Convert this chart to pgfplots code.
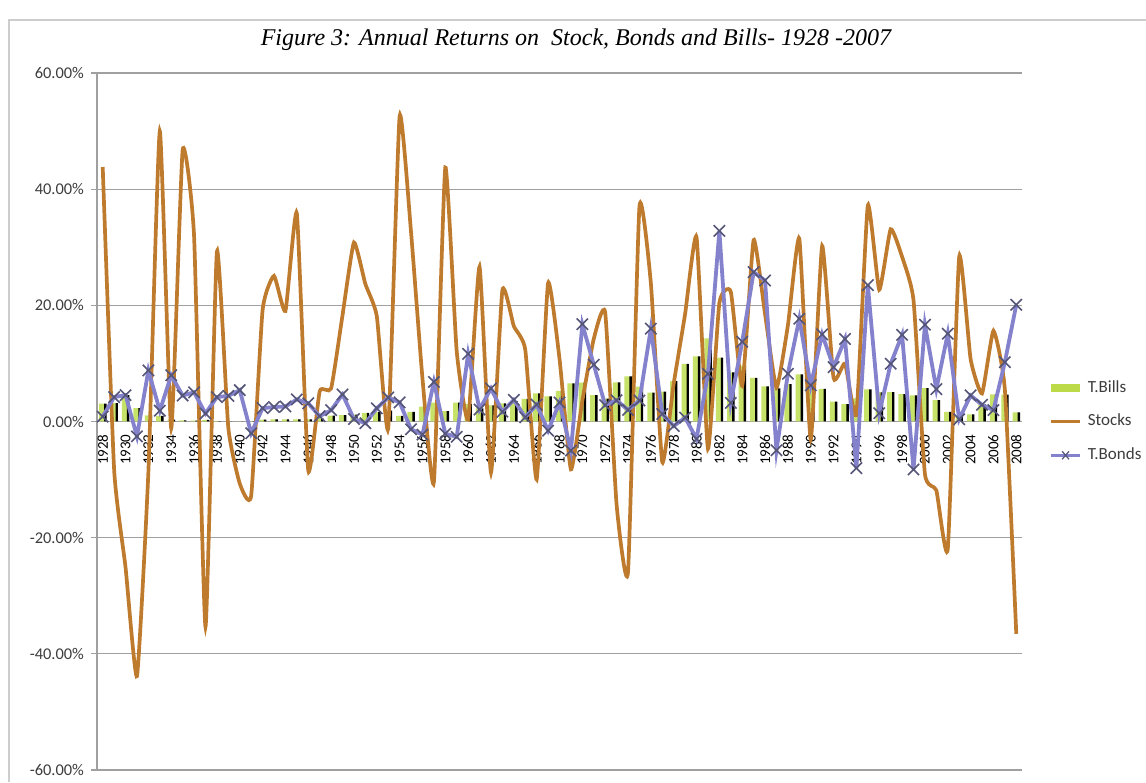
\documentclass[border=0pt]{standalone}
\usepackage{fontspec}
\setmainfont{Carlito}
\newfontfamily\titlefont{Liberation Serif}
\usepackage{pgfplots}
\usepackage{pgfplotstable}
\pgfplotsset{compat=1.18}

\definecolor{stockc}{RGB}{190,122,45}
\definecolor{bondc}{RGB}{132,130,204}
\definecolor{markc}{RGB}{85,85,120}
\definecolor{billc}{RGB}{198,226,105}
\definecolor{billleg}{RGB}{188,218,72}
\definecolor{gridc}{RGB}{160,160,160}
\definecolor{framec}{RGB}{205,205,205}
\definecolor{labelc}{RGB}{60,60,60}

% year, T.Bills, Stocks, T.Bonds (annual returns, %)
\pgfplotstableread{
year bills stocks bonds
1928 3.08 43.81 0.84
1929 3.16 -8.30 4.20
1930 4.55 -25.12 4.54
1931 2.31 -43.84 -2.56
1932 1.07 -8.64 8.79
1933 0.96 49.98 1.86
1934 0.32 -1.19 7.96
1935 0.18 46.74 4.47
1936 0.17 31.94 5.02
1937 0.30 -35.34 1.38
1938 0.08 29.28 4.21
1939 0.04 -1.10 4.41
1940 0.03 -10.67 5.40
1941 0.08 -12.77 -2.02
1942 0.34 19.17 2.29
1943 0.38 25.06 2.49
1944 0.38 19.03 2.58
1945 0.38 35.82 3.80
1946 0.38 -8.43 3.13
1947 0.57 5.20 0.92
1948 1.02 5.70 1.95
1949 1.10 18.30 4.66
1950 1.17 30.81 0.43
1951 1.48 23.68 -0.30
1952 1.67 18.15 2.27
1953 1.89 -1.21 4.14
1954 0.96 52.56 3.29
1955 1.66 32.60 -1.34
1956 2.56 7.44 -2.26
1957 3.23 -10.46 6.80
1958 1.78 43.72 -2.10
1959 3.26 12.06 -2.65
1960 3.05 0.34 11.64
1961 2.27 26.64 2.06
1962 2.78 -8.81 5.69
1963 3.11 22.61 1.68
1964 3.51 16.42 3.73
1965 3.90 12.40 0.72
1966 4.84 -9.97 2.91
1967 4.33 23.80 -1.58
1968 5.26 10.81 3.27
1969 6.56 -8.24 -5.01
1970 6.69 3.56 16.75
1971 4.54 14.22 9.79
1972 3.95 18.76 2.82
1973 6.73 -14.31 3.66
1974 7.78 -25.90 1.99
1975 5.99 37.00 3.61
1976 4.97 23.83 15.98
1977 5.13 -6.98 1.29
1978 6.93 6.51 -0.78
1979 9.94 18.52 0.67
1980 11.22 31.74 -2.99
1981 14.30 -4.70 8.20
1982 11.01 20.42 32.81
1983 8.45 22.34 3.20
1984 9.61 6.15 13.73
1985 7.49 31.24 25.71
1986 6.04 18.49 24.28
1987 5.72 5.81 -4.96
1988 6.45 16.54 8.22
1989 8.11 31.48 17.69
1990 7.55 -3.06 6.24
1991 5.61 30.23 15.00
1992 3.41 7.49 9.36
1993 2.98 9.97 14.21
1994 3.99 1.33 -8.04
1995 5.52 37.20 23.48
1996 5.02 22.68 1.43
1997 5.05 33.10 9.94
1998 4.73 28.34 14.92
1999 4.51 20.89 -8.25
2000 5.76 -9.03 16.66
2001 3.67 -11.85 5.57
2002 1.66 -21.97 15.12
2003 1.03 28.36 0.38
2004 1.23 10.74 4.49
2005 3.01 4.83 2.87
2006 4.68 15.61 1.96
2007 4.64 5.48 10.21
2008 1.59 -36.55 20.10
}\returns

\begin{document}
\begin{tikzpicture}
\path[use as bounding box] (0,0) rectangle (573pt,391pt);
\draw[framec, line width=0.8pt] (4.5pt,0) -- (4.5pt,381pt) -- (573pt,381pt);
\node[font=\titlefont\itshape\fontsize{12}{14}\selectfont] at (288pt,371pt)
  {Figure 3: Annual Returns on\ \ Stock, Bonds and Bills- 1928 -2007};
\begin{axis}[
  at={(48.5pt,6pt)}, anchor=south west,
  scale only axis, width=462.5pt, height=348.5pt,
  xmin=1927.5, xmax=2008.5,
  ymin=-60, ymax=60,
  axis x line=middle, axis y line=left,
  x axis line style={-, gridc, line width=0.6pt},
  y axis line style={-, gridc, line width=0.6pt},
  ytick={-60,-40,-20,0,20,40,60},
  yticklabels={-60.00\%,-40.00\%,-20.00\%,0.00\%,20.00\%,40.00\%,60.00\%},
  ymajorgrids, grid style={gridc, line width=0.6pt},
  xtick={1928,1930,...,2008},
  /pgf/number format/assume math mode=true,
  /pgf/number format/1000 sep={},
  tick align=outside, major tick length=3pt,
  ytick style={gridc, line width=0.6pt},
  xtick style={draw=none},
  yticklabel style={font=\fontsize{8.2}{9}\selectfont, text=labelc},
  xticklabel style={rotate=90, anchor=east, font=\fontsize{7.5}{8}\selectfont, text=black},
  clip=false,
  legend style={at={(1.027,0.5)}, anchor=west, draw=none, fill=none, inner sep=0pt,
    font=\fontsize{8.5}{9}\selectfont, row sep=5.5pt, text=labelc},
  legend cell align=left,
]
\addplot[ybar, bar width=2.8pt, bar shift=-0.4pt, fill=billc, draw=none,
  legend image code/.code={\draw[billleg, line width=4pt] (0cm,0cm) -- (0.5cm,0cm);}]
  table[x=year, y=bills] {\returns};
\addlegendentry{T.Bills}
\addplot[ybar, bar width=1.2pt, bar shift=1.3pt, fill=black, draw=none, forget plot]
  table[x=year, y=bills] {\returns};
\addplot[stockc, line width=1.85pt, smooth, tension=0.28, no markers,
  legend image code/.code={\draw[stockc, line width=1.5pt] (0cm,0cm) -- (0.5cm,0cm);}]
  table[x=year, y=stocks] {\returns};
\addlegendentry{Stocks}
\addplot[bondc, line width=1.9pt, mark=x, mark size=4pt,
  mark options={markc, line width=0.8pt},
  legend image code/.code={\draw[bondc, line width=1.3pt] (0cm,0cm) -- (0.5cm,0cm);
    \draw[markc, line width=0.6pt] (0.19cm,-0.07cm) -- (0.31cm,0.07cm)
      (0.19cm,0.07cm) -- (0.31cm,-0.07cm);}]
  table[x=year, y=bonds] {\returns};
\addlegendentry{T.Bonds}
\end{axis}
\end{tikzpicture}
\end{document}
